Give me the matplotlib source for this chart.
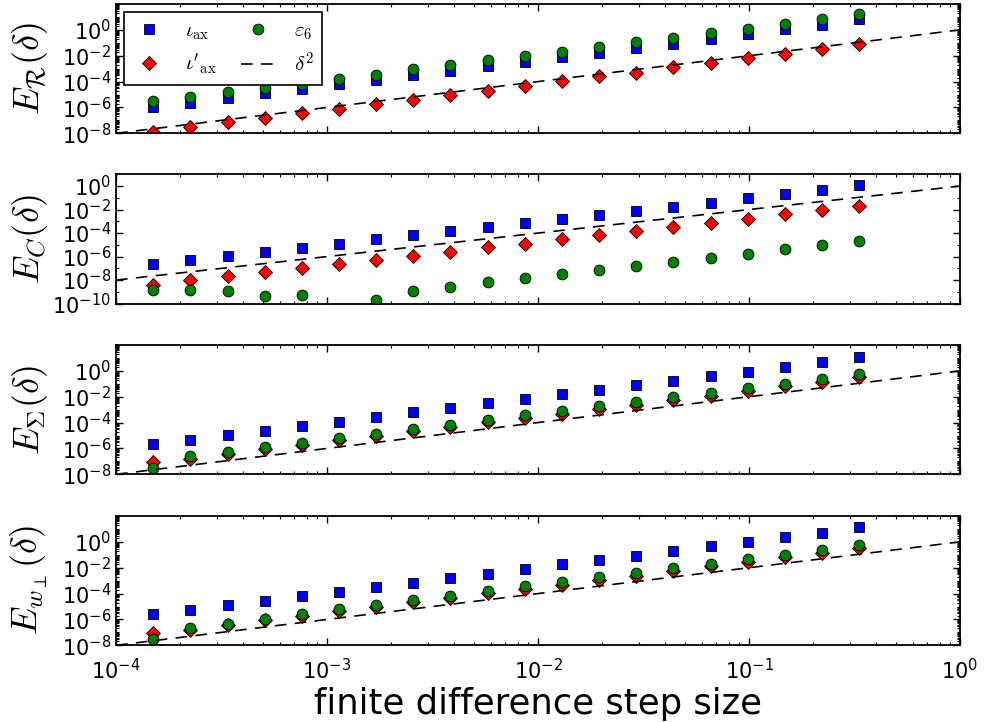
import numpy as np
import matplotlib
matplotlib.use('Agg')
from matplotlib import pyplot as plt
from matplotlib.ticker import LogLocator, NullFormatter

plt.rcParams['mathtext.fontset'] = 'cm'
plt.rcParams['axes.unicode_minus'] = False
plt.rcParams['font.family'] = 'DejaVu Sans'

# finite difference step sizes
step = [1.5e-4, 2.25e-4, 3.4e-4, 5.1e-4, 7.6e-4, 1.14e-3, 1.71e-3, 2.56e-3, 3.84e-3, 5.77e-3,
        8.65e-3, 1.30e-2, 1.95e-2, 2.92e-2, 4.38e-2, 6.57e-2, 9.85e-2, 0.148, 0.222, 0.333]

# delta^2 reference line
ref_x = [1e-4, 1.0]
ref_y = [1e-8, 1.0]

# panel 1: E_R
R_iota = [1.15e-6, 2.3e-6, 5.5e-6, 1.26e-5, 2.7e-5, 6.3e-5, 1.35e-4, 3.3e-4, 7.1e-4, 1.66e-3,
          3.4e-3, 7.8e-3, 1.66e-2, 4.1e-2, 8.7e-2, 0.2, 0.47, 1.07, 2.45, 6.5]
R_iotap = [1.35e-8, 3.2e-8, 7.1e-8, 1.6e-7, 4.0e-7, 7.9e-7, 1.8e-6, 4.0e-6, 8.9e-6, 2.0e-5,
           4.8e-5, 1.07e-4, 2.5e-4, 5.0e-4, 1.25e-3, 2.6e-3, 6.5e-3, 1.3e-2, 3.4e-2, 7.8e-2]
R_eps = [3.0e-6, 6.2e-6, 1.45e-5, 3.3e-5, 7.1e-5, 1.66e-4, 3.5e-4, 8.7e-4, 1.9e-3, 4.4e-3,
         8.9e-3, 2.0e-2, 4.4e-2, 0.107, 0.23, 0.54, 1.23, 2.8, 6.5, 18.0]

# panel 2: E_C
C_iota = [2.2e-7, 4.8e-7, 1.2e-6, 2.5e-6, 5.8e-6, 1.26e-5, 2.95e-5, 6.5e-5, 1.4e-4, 3.1e-4,
          7.2e-4, 1.6e-3, 3.5e-3, 7.6e-3, 1.7e-2, 3.8e-2, 8.9e-2, 0.21, 0.46, 1.15]
C_iotap = [4.1e-9, 9.5e-9, 2.1e-8, 4.9e-8, 1.07e-7, 2.3e-7, 5.1e-7, 1.2e-6, 2.6e-6, 6.6e-6,
           1.26e-5, 2.95e-5, 6.9e-5, 1.5e-4, 3.5e-4, 7.6e-4, 1.66e-3, 3.9e-3, 9.1e-3, 2.1e-2]
C_eps = [1.55e-9, 1.55e-9, 1.2e-9, 4.2e-10, 5.1e-10, 1e-11, 1.9e-10, 1.1e-9, 2.6e-9, 6.3e-9,
         1.4e-8, 3.3e-8, 7.2e-8, 1.7e-7, 3.7e-7, 8.1e-7, 1.8e-6, 4.2e-6, 9.1e-6, 2.1e-5]

# panel 3: E_Sigma
S_iota = [2.2e-6, 4.8e-6, 1.1e-5, 2.4e-5, 5.5e-5, 1.2e-4, 2.9e-4, 6.3e-4, 1.45e-3, 3.2e-3,
          7.2e-3, 1.55e-2, 3.4e-2, 7.8e-2, 0.17, 0.39, 0.89, 2.0, 4.7, 12.0]
S_iotap = [8.9e-8, 1.55e-7, 3.5e-7, 8.7e-7, 1.9e-6, 4.6e-6, 1.0e-5, 2.1e-5, 4.9e-5, 1.1e-4,
           2.2e-4, 4.7e-4, 1.07e-3, 2.5e-3, 5.4e-3, 1.2e-2, 2.8e-2, 6.5e-2, 0.148, 0.35]
S_eps = [3.1e-8, 2.6e-7, 5.0e-7, 1.23e-6, 2.8e-6, 6.2e-6, 1.4e-5, 3.0e-5, 7.1e-5, 1.6e-4,
         3.7e-4, 7.9e-4, 1.8e-3, 4.0e-3, 9.1e-3, 2.1e-2, 4.8e-2, 0.105, 0.24, 0.55]

# panel 4: E_w_perp
W_iota = [2.5e-6, 5.5e-6, 1.26e-5, 2.7e-5, 6.2e-5, 1.35e-4, 3.3e-4, 7.1e-4, 1.6e-3, 3.5e-3,
          8.1e-3, 1.8e-2, 3.8e-2, 8.7e-2, 0.19, 0.44, 1.0, 2.3, 5.2, 13.8]
W_iotap = [9.5e-8, 1.45e-7, 3.4e-7, 8.5e-7, 1.9e-6, 4.5e-6, 1.0e-5, 2.2e-5, 4.8e-5, 1.1e-4,
           2.3e-4, 4.8e-4, 1.1e-3, 2.5e-3, 5.5e-3, 1.25e-2, 2.8e-2, 6.4e-2, 0.15, 0.36]
W_eps = [2.9e-8, 2.3e-7, 4.3e-7, 1.15e-6, 2.8e-6, 6.2e-6, 1.4e-5, 3.2e-5, 7.1e-5, 1.6e-4,
         3.7e-4, 7.9e-4, 1.8e-3, 4.0e-3, 9.1e-3, 2.0e-2, 4.6e-2, 0.105, 0.22, 0.55]

panels = [
    (R_iota, R_iotap, R_eps, r'$E_{\mathcal{R}}(\delta)$', (1e-8, 1e2)),
    (C_iota, C_iotap, C_eps, r'$E_C(\delta)$', (1e-10, 1e1)),
    (S_iota, S_iotap, S_eps, r'$E_{\Sigma}(\delta)$', (1e-8, 1e2)),
    (W_iota, W_iotap, W_eps, r'$E_{w_\perp}(\delta)$', (1e-8, 1e2)),
]

fig = plt.figure(figsize=(9.84, 7.22), dpi=100)
left, width = 116 / 984, 844 / 984
tops = [4, 174.3, 345, 516]
h = 129.3

mk = dict(linestyle='none', markersize=7.8, markeredgecolor='black', markeredgewidth=0.6)

for i, (iota, iotap, eps, ylab, ylim) in enumerate(panels):
    ax = fig.add_axes([left, 1 - (tops[i] + h) / 722, width, h / 722])
    ax.plot(step, iota, marker='s', color='#0000ff', label=r'$\iota_{\rm ax}$', **mk)
    ax.plot(step, iotap, marker='D', color='#ff0000', label=r"$\iota'_{\rm ax}$",
            **dict(mk, markersize=7.2))
    ax.plot(step, eps, marker='o', color='#008000', label=r'$\varepsilon_6$', **mk)
    ax.plot(ref_x, ref_y, color='black', linestyle=(0, (7, 5)), linewidth=1.2,
            label=r'$\delta^2$')
    ax.set_xscale('log')
    ax.set_yscale('log')
    ax.set_xlim(1e-4, 1)
    ax.set_ylim(*ylim)
    lo = int(np.log10(ylim[0]))
    ax.set_yticks([10.0 ** e for e in range(lo, 1, 2)])
    if i == 1:
        ax.yaxis.set_minor_locator(LogLocator(base=10, subs=[1.0], numticks=50))
    else:
        ax.yaxis.set_minor_locator(LogLocator(base=10, subs=np.arange(1, 10), numticks=100))
    ax.yaxis.set_minor_formatter(NullFormatter())
    ax.xaxis.set_minor_locator(LogLocator(base=10, subs=np.arange(2, 10), numticks=50))
    ax.tick_params(which='both', direction='in', top=True, right=True, labelsize=15)
    ax.tick_params(which='major', length=5, width=1)
    ax.tick_params(which='minor', length=2.5, width=0.8)
    ax.tick_params(axis='x', pad=9)
    for s in ax.spines.values():
        s.set_linewidth(1.3)
    ax.set_ylabel(ylab, fontsize=26)
    ax.yaxis.set_label_coords(-0.078, 0.5)
    if i < 3:
        ax.tick_params(labelbottom=False)
    else:
        ax.set_xlabel('finite difference step size', fontsize=25.5, labelpad=3)
    if i == 0:
        leg = ax.legend(loc='upper left', ncol=2, numpoints=1, fontsize=15,
                        fancybox=False, framealpha=1, edgecolor='black',
                        handlelength=1.6, columnspacing=1.2, handletextpad=0.9,
                        labelspacing=0.45, borderaxespad=0.4, borderpad=0.4)
        leg.get_frame().set_linewidth(1.2)

fig.savefig('out.png', dpi=100)
